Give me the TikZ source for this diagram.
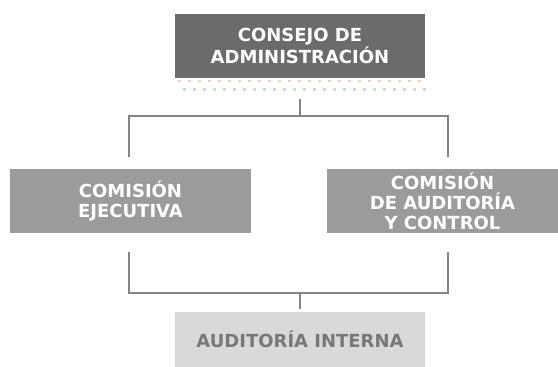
\documentclass[tikz,border=0pt]{standalone}
\usepackage{fontspec}
\setmainfont{DejaVu Sans}
\usepackage{xcolor}
\usepackage{tikz}
\usetikzlibrary{positioning}
\definecolor{darkbox}{HTML}{6B6B6B}
\definecolor{midbox}{HTML}{9B9B9B}
\definecolor{lightbox}{HTML}{D9D9D9}
\definecolor{lighttext}{HTML}{787878}
\definecolor{linegray}{HTML}{858585}
\definecolor{dotcol}{HTML}{E6D3C6}

\begin{document}
\begin{tikzpicture}[
  x=1pt,y=-1pt,
  box/.style={align=center,inner sep=0pt,text=white,
              font=\fontsize{18}{20}\selectfont\bfseries},
  top/.style={box,fill=darkbox,minimum width=250pt,minimum height=64pt},
  mid/.style={box,fill=midbox,minimum width=241pt,minimum height=64pt},
  low/.style={box,fill=lightbox,text=lighttext,minimum width=250pt,minimum height=55pt},
  link/.style={draw=linegray,line width=1.4pt}
]
\useasboundingbox (0,0) rectangle (558,367);
\node[top] (consejo) at (300,46) {CONSEJO DE\\ADMINISTRACIÓN};
\node[mid] (ejecutiva) at (130.5,201) {COMISIÓN\\EJECUTIVA};
\node[mid,minimum width=231pt] (auditoria) at (442.5,201) {COMISIÓN\\DE AUDITORÍA\\Y CONTROL};
\node[low] (interna) at (300,339.5) {AUDITORÍA INTERNA};
% dotted band under the board box
\foreach \i in {0,...,24} {
  \fill[dotcol] (178+10*\i,79.5) rectangle ++(2.5,2.5);
  \fill[dotcol] (183+10*\i,88) rectangle ++(2.5,2.5);
}
% connectors
\coordinate (fork1) at (300,116);
\coordinate (tl) at (129,157);
\coordinate (tr) at (448,157);
\coordinate (fork2) at (300,293);
\coordinate (bl) at (129,252);
\coordinate (br) at (448,252);
\draw[link,shorten <=21pt] (consejo.south) -- (fork1);
\draw[link] (tl) |- (fork1) -| (tr);
\draw[link] (bl) |- (fork2) -| (br);
\draw[link,shorten >=3pt] (fork2) -- (interna.north);
\end{tikzpicture}
\end{document}
